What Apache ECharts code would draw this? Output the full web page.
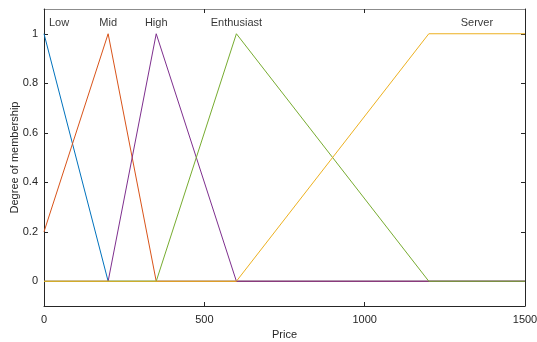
<!DOCTYPE html>
<html>
<head>
<meta charset="utf-8">
<script src="https://cdn.jsdelivr.net/npm/echarts@6/dist/echarts.min.js"></script>
<style>
  html, body { margin: 0; padding: 0; background: #fff; }
  #chart { width: 537px; height: 342px; }
</style>
</head>
<body>
<div id="chart"></div>
<script>
// membership functions, [price, degree]
const low = [[0, 1], [200, 0], [1500, 0]];
const mid = [[0, 0.2], [200, 1], [350, 0], [1500, 0]];
const high = [[0, 0], [200, 0], [350, 1], [600, 0], [1500, 0]];
const enthusiast = [[0, 0], [350, 0], [600, 1], [1200, 0], [1500, 0]];
const server = [[0, 0], [600, 0], [1200, 1], [1500, 1]];

const mfNames = ['Low', 'Mid', 'High', 'Enthusiast', 'Server'];
const mfData = [low, mid, high, enthusiast, server];
const mfColors = ['#0072BD', '#D95319', '#7E2F8E', '#77AC30', '#EDB120'];
// label anchor positions [price, degree]
const labelPos = [[47, 1.045], [200, 1.045], [350, 1.045], [600, 1.045], [1350, 1.045]];

const xTicks = [0, 500, 1000, 1500];
const yTicks = [0, 0.2, 0.4, 0.6, 0.8, 1];

const chart = echarts.init(document.getElementById('chart'));
const txt = '#262626';
const font = 'Arial';

let series = mfData.map((d, i) => ({
  name: mfNames[i],
  type: 'line',
  data: d,
  symbol: 'none',
  animation: false,
  lineStyle: { color: mfColors[i], width: 1 },
  z: 3
}));
series.push({
  type: 'scatter',
  symbolSize: 0,
  animation: false,
  data: labelPos.map((p, i) => [p[0], p[1], mfNames[i]]),
  label: {
    show: true,
    position: 'inside',
    formatter: p => p.data[2],
    color: '#000',
    fontFamily: font,
    fontSize: 11
  },
  z: 4
});

const boxLine = { show: true, onZero: false, lineStyle: { color: '#262626', width: 1 } };
const tick = { show: true, inside: true, length: 4, lineStyle: { color: txt } };

let option = {
  backgroundColor: '#fff',
  grid: { left: 44, right: 12, top: 9, bottom: 36, outerBoundsMode: 'none', containLabel: false },
  xAxis: [
    {
      type: 'value',
      min: 0, max: 1500, interval: 500,
      name: 'Price',
      nameLocation: 'middle',
      nameGap: 23,
      nameMoveOverlap: false,
      nameTextStyle: { color: txt, fontFamily: font, fontSize: 11 },
      axisLine: boxLine,
      axisTick: tick,
      axisLabel: { color: txt, fontFamily: font, fontSize: 11, margin: 8, formatter: v => String(v) },
      splitLine: { show: false }
    },
    {
      type: 'value', position: 'top',
      min: 0, max: 1500, interval: 500,
      axisLine: { show: true, onZero: false, lineStyle: { color: '#8c8c8c', width: 1 } },
      axisTick: tick,
      axisLabel: { show: false },
      splitLine: { show: false }
    }
  ],
  yAxis: [
    {
      type: 'value', position: 'left',
      min: -0.1, max: 1.1,
      name: 'Degree of membership',
      nameLocation: 'middle',
      nameGap: 24,
      nameMoveOverlap: false,
      nameTextStyle: { color: txt, fontFamily: font, fontSize: 11 },
      axisLine: boxLine,
      axisTick: Object.assign({}, tick, { customValues: yTicks }),
      axisLabel: {
        color: txt, fontFamily: font, fontSize: 11, margin: 6,
        customValues: yTicks,
        formatter: v => String(Math.round(v * 10) / 10)
      },
      splitLine: { show: false }
    },
    {
      type: 'value', position: 'right',
      min: -0.1, max: 1.1,
      axisLine: boxLine,
      axisTick: Object.assign({}, tick, { customValues: yTicks }),
      axisLabel: { show: false },
      splitLine: { show: false }
    }
  ],
  series: series
};
chart.setOption(option);
</script>
</body>
</html>
